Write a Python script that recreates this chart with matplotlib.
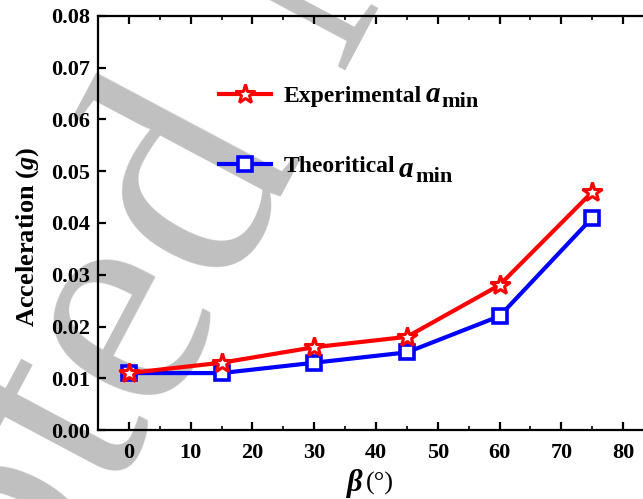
import matplotlib
matplotlib.use("Agg")
import matplotlib.pyplot as plt
from matplotlib.font_manager import FontProperties, findfont, get_font
from matplotlib.ticker import MultipleLocator
import numpy as np

# data
beta = [0, 15, 30, 45, 60, 75]
a_exp = [0.011, 0.013, 0.016, 0.018, 0.028, 0.046]
a_theo = [0.011, 0.011, 0.013, 0.015, 0.022, 0.041]
xticks = [0, 10, 20, 30, 40, 50, 60, 70, 80]
yticks = [0.00, 0.01, 0.02, 0.03, 0.04, 0.05, 0.06, 0.07, 0.08]
series_names = ['Experimental', 'Theoritical']

plt.rcParams['font.family'] = 'Liberation Serif'
plt.rcParams['font.weight'] = 'bold'
plt.rcParams['mathtext.fontset'] = 'custom'
plt.rcParams['mathtext.rm'] = 'Liberation Serif:bold'
plt.rcParams['mathtext.bf'] = 'Liberation Serif:bold'
plt.rcParams['mathtext.it'] = 'Liberation Serif:italic:bold'

W, H, DPI = 643, 499, 100
fig = plt.figure(figsize=(W / DPI, H / DPI), dpi=DPI)

# axes box in pixels: left 98, right 654 (runs past the right edge), top 16, bottom 430
ax = fig.add_axes([98 / W, 1 - 430 / H, (654 - 98) / W, (430 - 16) / H])
ax.patch.set_alpha(0)

# background watermark: serif text set along a slanted baseline
wm_text = 'Accepted Manuscript'
wm_size = 228          # pt
wm_ang = 62            # deg
wm_track = 4           # extra px between letters
fp = FontProperties(family='Liberation Serif', size=wm_size, weight='normal')
ft = get_font(findfont(fp))
ft.set_size(wm_size, DPI)
em = wm_size * DPI / 72
advances = [ft.load_char(ord(c)).linearHoriAdvance / 65536 for c in wm_text]
offsets = np.concatenate([[0], np.cumsum(np.array(advances) + wm_track)])[:-1]
ang = np.deg2rad(wm_ang)
dir_x, dir_y = np.cos(ang), -np.sin(ang)     # image coords (y down)
up_x, up_y = -np.sin(ang), -np.cos(ang)
# bowl of the "d" centred at (192, 188) px
i_d = wm_text.index('d')
bx = offsets[i_d] + 0.23 * em
by = 0.23 * em
sx = 192 - bx * dir_x - by * up_x
sy = 188 - bx * dir_y - by * up_y
for c, off in zip(wm_text, offsets):
    px, py = sx + off * dir_x, sy + off * dir_y
    fig.text(px / W, 1 - py / H, c, fontproperties=fp, color='#c0c0c0',
             rotation=wm_ang, rotation_mode='anchor', ha='left',
             va='baseline', zorder=-5)

ax.plot(beta, a_exp, color='#ff0000', lw=3, marker='*', ms=15,
        mfc='white', mec='#ff0000', mew=2.2, label=series_names[0], zorder=4)
ax.plot(beta, a_theo, color='#0000ff', lw=3, marker='s', ms=10,
        mfc='white', mec='#0000ff', mew=2.6, label=series_names[1], zorder=3)

ax.set_xlim(-5, 85)
ax.set_ylim(0, 0.08)
ax.set_xticks(xticks)
ax.set_yticks(yticks)
ax.set_yticklabels([f'{v:.2f}' for v in yticks])
ax.xaxis.set_minor_locator(MultipleLocator(5))

for s in ('left', 'bottom', 'top'):
    ax.spines[s].set_linewidth(1.6)
ax.spines['right'].set_visible(False)
ax.tick_params(axis='both', which='major', direction='in', length=6, width=1.6,
               labelsize=16, top=True, right=False)
ax.tick_params(axis='x', which='minor', direction='in', length=3, width=1.2,
               top=True)
ax.tick_params(axis='x', which='major', pad=9)
ax.tick_params(axis='y', which='major', pad=6)
for lab in ax.get_xticklabels() + ax.get_yticklabels():
    lab.set_fontweight('bold')

# axis titles
fig.text(28 / W, 1 - 237 / H, r'Acceleration ($\mathit{g}$)', rotation=90,
         ha='center', va='center', fontsize=19, fontweight='bold')
fig.text(355 / W, 1 - 483 / H, r'$\beta$', ha='center', va='center',
         fontsize=22)
fig.text(380 / W, 1 - 483 / H, '(°)', ha='center', va='center',
         fontsize=19, fontweight='normal')

leg = ax.legend(loc='upper left', bbox_to_anchor=(0.2, 0.855), frameon=False,
                fontsize=17, handlelength=2.2, handletextpad=0.55,
                labelspacing=2.05, borderaxespad=0)

# append the italic "a" with a "min" subscript after each legend entry
fig.canvas.draw()
renderer = fig.canvas.get_renderer()
for t in leg.get_texts():
    bb = t.get_window_extent(renderer)
    _, _, desc = renderer.get_text_width_height_descent(
        t.get_text(), t.get_fontproperties(), ismath=False)
    base = bb.y0 + desc
    a_txt = fig.text((bb.x1 + 3) / W, base / H, r'$a$', fontsize=21,
                     va='baseline')
    abb = a_txt.get_window_extent(renderer)
    fig.text((abb.x1 + 1) / W, (base - 5) / H, 'min', fontsize=16,
             fontweight='bold', va='baseline')

fig.savefig('out.png', dpi=DPI)
